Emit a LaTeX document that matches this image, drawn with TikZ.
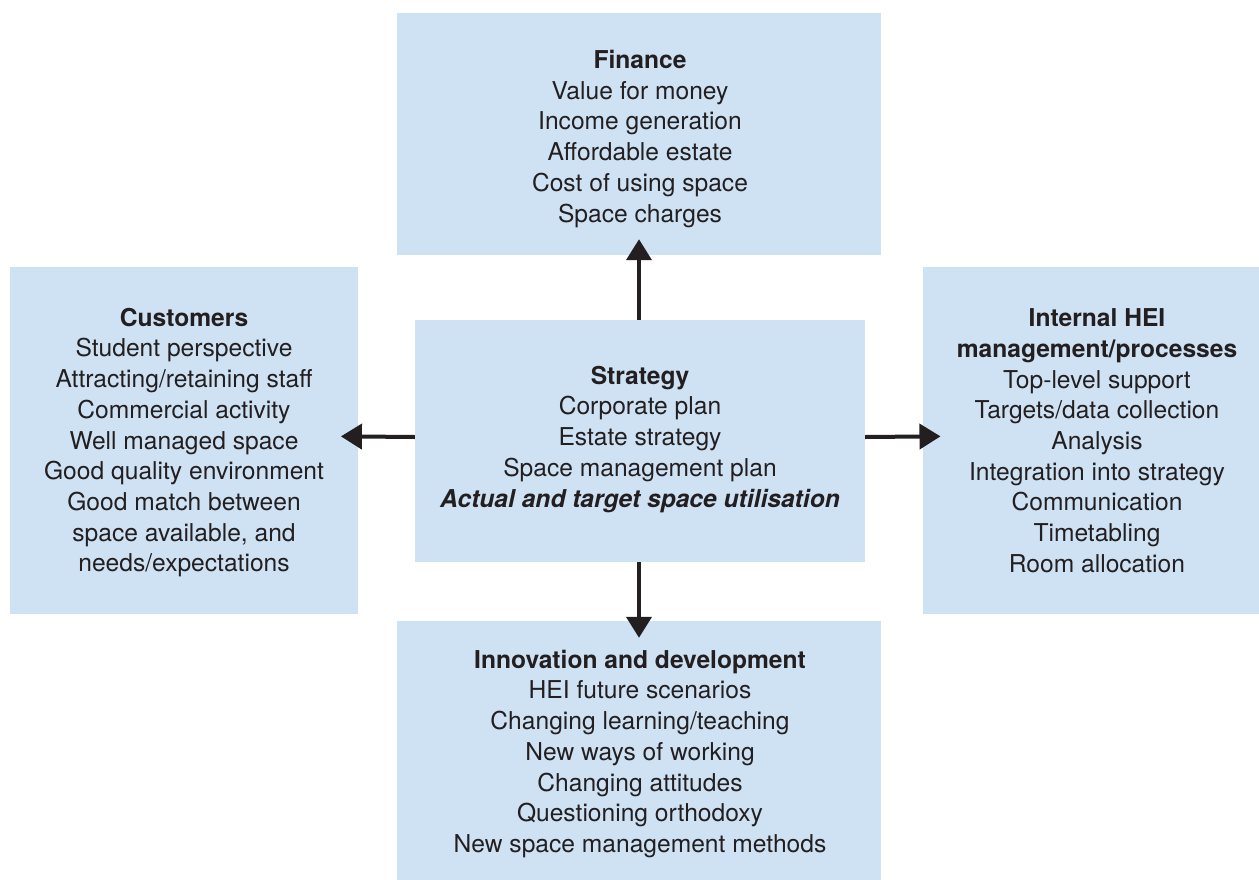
\documentclass[tikz,border=0pt]{standalone}
\usepackage{fontspec}
\setmainfont{TeX Gyre Heros}
\usetikzlibrary{arrows.meta}
\definecolor{panelfill}{HTML}{CEE2F4}
\definecolor{ink}{HTML}{231F20}
% bold heading line with a fixed strut so every block starts at the same height
\newcommand{\panelhead}[1]{\rule{0pt}{20pt}\textbf{#1}}

\begin{document}
\begin{tikzpicture}[x=1pt,y=-1pt,
  panelbox/.style={fill=panelfill, draw=none, inner sep=0pt},
  paneltext/.style={anchor=north, align=center, inner sep=0pt, text=ink,
    font=\fontsize{24.6pt}{30.7pt}\selectfont},
  flow/.style={draw=ink, line width=4pt, -{Triangle[length=21pt,width=25pt]}}]
\useasboundingbox (0,0) rectangle (1259,879);
\clip (0,0) rectangle (1259,879);

% panels
\node[panelbox, minimum width=484pt, minimum height=241.5pt] (finance) at (639,133.75) {};
\node[panelbox, minimum width=348pt, minimum height=347pt] (customers) at (184,440.5) {};
\node[panelbox, minimum width=450pt, minimum height=242pt] (strategy) at (640,441) {};
\node[panelbox, minimum width=348pt, minimum height=347pt] (internal) at (1097,440.5) {};
\node[panelbox, minimum width=484pt, minimum height=259pt] (innovation) at (639,750.5) {};

% panel texts
\node[paneltext] (financetext) at (640,48.3)
  {\panelhead{Finance}\\Value for money\\Income generation\\Affordable estate\\Cost of using space\\Space charges};
\node[paneltext] (customerstext) at (184,306)
  {\panelhead{Customers}\\Student perspective\\Attracting/retaining staff\\Commercial activity\\Well managed space\\Good quality environment\\Good match between\\space available, and\\needs/expectations};
\node[paneltext] (strategytext) at (640,364)
  {\panelhead{Strategy}\\Corporate plan\\Estate strategy\\Space management plan\\\textbf{\textit{Actual and target space utilisation}}};
\node[paneltext] (internaltext) at (1097,306.5)
  {\panelhead{Internal HEI}\\\textbf{management/processes}\\Top-level support\\Targets/data collection\\Analysis\\Integration into strategy\\Communication\\Timetabling\\Room allocation};
\node[paneltext] (innovationtext) at (640,648)
  {\panelhead{Innovation and development}\\HEI future scenarios\\Changing learning/teaching\\New ways of working\\Changing attitudes\\Questioning orthodoxy\\New space management methods};

% connectors from the strategy panel
\draw[flow, shorten >=-15.5pt] (strategy.north -| finance.south) -- (finance.south);
\draw[flow, shorten >=-17.3pt] ([yshift=4pt]strategy.west) -- ([yshift=4pt]customers.east);
\draw[flow, shorten >=-17.7pt] ([yshift=4pt]strategy.east) -- ([yshift=4pt]internal.west);
\draw[flow, shorten >=-17pt] (strategy.south -| innovation.north) -- (innovation.north);
\end{tikzpicture}
\end{document}
